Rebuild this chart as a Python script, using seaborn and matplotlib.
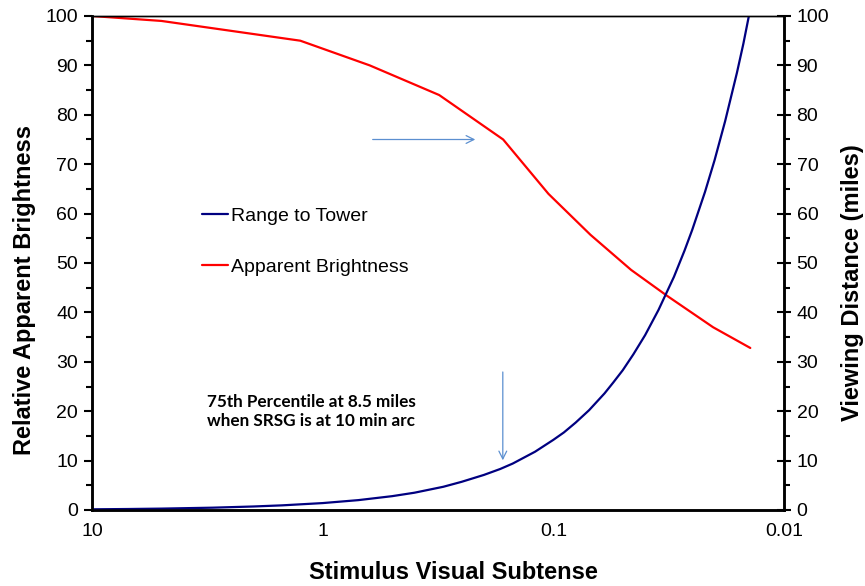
import numpy as np
import pandas as pd
import matplotlib
matplotlib.use("Agg")
import matplotlib.pyplot as plt
from matplotlib.ticker import LogLocator, NullFormatter, FixedLocator, FixedFormatter
import seaborn as sns

# Apparent brightness (left axis) vs. stimulus visual subtense
subtense_bright = [10, 5, 1.25, 0.625, 0.3125, 0.165, 0.105, 0.069, 0.046, 0.032, 0.0203, 0.014]
brightness = [100, 99, 95, 90, 84, 75, 64, 55.7, 48.6, 43.3, 37, 32.8]

# Range to tower (right axis)
subtense_range = [10, 7, 5, 3, 2, 1.5, 1, 0.7, 0.5, 0.4, 0.3, 0.25, 0.2, 0.17,
                  0.15, 0.12, 0.1, 0.09, 0.08, 0.07, 0.06, 0.055, 0.05, 0.045,
                  0.04, 0.035, 0.03, 0.027, 0.025, 0.022, 0.02, 0.018, 0.016,
                  0.015, 0.0142]
range_miles = [0.14, 0.2, 0.28, 0.47, 0.71, 0.94, 1.4, 2.0, 2.8, 3.5, 4.7, 5.7,
               7.1, 8.3, 9.4, 11.8, 14.2, 15.7, 17.7, 20.2, 23.6, 25.8, 28.3,
               31.5, 35.4, 40.5, 47.2, 52.5, 56.7, 64.4, 70.8, 78.7, 88.5,
               94.4, 100]

x_ticks = [10, 1, 0.1, 0.01]
x_tick_labels = ["10", "1", "0.1", "0.01"]
y_ticks = list(range(0, 101, 10))

note_text = "75th Percentile at 8.5 miles\nwhen SRSG is at 10 min arc"

bright_df = pd.DataFrame({"subtense": subtense_bright, "brightness": brightness})
range_df = pd.DataFrame({"subtense": subtense_range, "miles": range_miles})

sns.set_style("white")
plt.rcParams["font.family"] = ["Liberation Sans", "DejaVu Sans"]
plt.rcParams["text.color"] = "black"
plt.rcParams["axes.labelcolor"] = "black"
plt.rcParams["xtick.color"] = "black"
plt.rcParams["ytick.color"] = "black"

fig = plt.figure(figsize=(8.65, 5.86), dpi=100)
ax = fig.add_axes([92 / 865, 1 - 510 / 586, (784 - 92) / 865, (510 - 16) / 586])
ax2 = ax.twinx()

sns.lineplot(data=bright_df, x="subtense", y="brightness", ax=ax, color="#ff0000",
             linewidth=1.6, sort=False, label="_nolegend_")
sns.lineplot(data=range_df, x="subtense", y="miles", ax=ax2, color="#000080",
             linewidth=1.6, sort=False, label="_nolegend_")

ax.set_xscale("log")
ax.set_xlim(10, 0.01)
ax.set_ylim(0, 100)
ax2.set_ylim(0, 100)

ax.xaxis.set_major_locator(FixedLocator(x_ticks))
ax.xaxis.set_major_formatter(FixedFormatter(x_tick_labels))
ax.xaxis.set_minor_locator(LogLocator(base=10, subs=np.arange(2, 10)))
ax.xaxis.set_minor_formatter(NullFormatter())
for a in (ax, ax2):
    a.set_yticks(y_ticks)
    a.set_yticks(list(range(5, 100, 10)), minor=True)

ax.tick_params(axis="y", which="major", direction="out", length=6, width=1.5, labelsize=14, pad=4)
ax.tick_params(axis="y", which="minor", direction="out", length=4, width=1.5)
ax.tick_params(axis="x", which="major", direction="inout", length=10, width=1.5, labelsize=14, pad=4)
ax.tick_params(axis="x", which="minor", direction="out", length=4, width=1.5)
ax2.tick_params(axis="y", which="major", direction="inout", length=10, width=1.5, labelsize=14, pad=4)
ax2.tick_params(axis="y", which="minor", direction="out", length=4, width=1.5)

for a in (ax, ax2):
    for side in ("left", "bottom", "right"):
        a.spines[side].set_linewidth(1.8)
        a.spines[side].set_color("black")
    a.spines["top"].set_linewidth(1.0)
    a.spines["top"].set_color("black")

ax.set_xlabel("Stimulus Visual Subtense", fontsize=17, fontweight="bold")
ax.set_ylabel("Relative Apparent Brightness", fontsize=17, fontweight="bold")
ax2.set_ylabel("Viewing Distance (miles)", fontsize=17, fontweight="bold")
ax.xaxis.set_label_coords(0.5217, -0.104)
ax.yaxis.set_label_coords(-0.098, 0.445)
ax2.yaxis.set_label_coords(1.0985, 0.46)
ax.yaxis.label.set_verticalalignment("center")
ax2.yaxis.label.set_verticalalignment("center")

# arrows and note
arrow_color = "#5b8fd0"
ax.annotate("", xy=(0.212, 75), xytext=(0.624, 75),
            arrowprops=dict(arrowstyle="->", color=arrow_color, lw=0.9, mutation_scale=14))
ax.annotate("", xy=(0.1656, 9.5), xytext=(0.1656, 28.5),
            arrowprops=dict(arrowstyle="->", color=arrow_color, lw=0.9, mutation_scale=14))
ax.text(3.18, 19.9, note_text, ha="left", va="center", fontsize=12.3,
        fontweight="bold", family=["Lato", "DejaVu Sans"], linespacing=1.27)

handles = [ax2.lines[0], ax.lines[0]]
fig.legend(handles, ["Range to Tower", "Apparent Brightness"], loc="upper left",
           bbox_to_anchor=(202 / 865, 1 - 207 / 586), bbox_transform=fig.transFigure,
           frameon=False, fontsize=14, handlelength=1.35, handletextpad=0.15,
           labelspacing=1.72, borderpad=0, borderaxespad=0)

fig.savefig("out.png", dpi=100)
